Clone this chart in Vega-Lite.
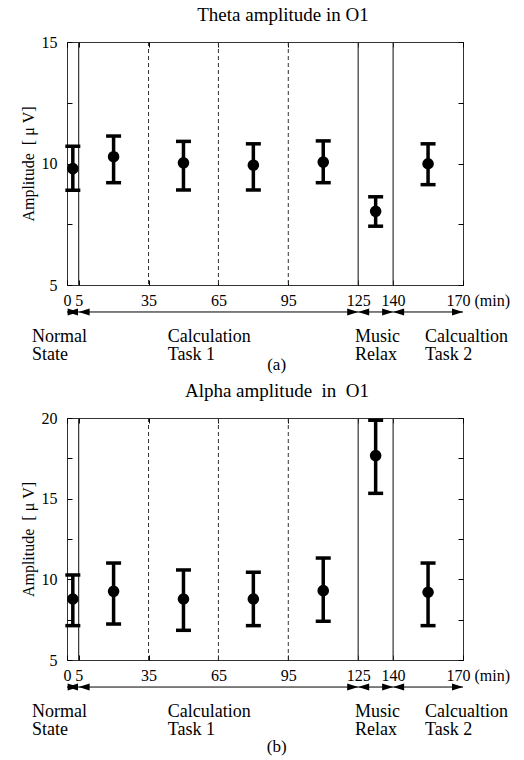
{
  "$schema": "https://vega.github.io/schema/vega-lite/v6.json",
  "padding": {"left": 19, "top": 5, "right": 0, "bottom": 0},
  "spacing": 7,
  "datasets": {
    "theta": [
      {"t": 2.5, "mean": 9.79, "lo": 8.90, "hi": 10.71},
      {"t": 20, "mean": 10.28, "lo": 9.21, "hi": 11.13},
      {"t": 50, "mean": 10.03, "lo": 8.91, "hi": 10.91},
      {"t": 80, "mean": 9.93, "lo": 8.91, "hi": 10.81},
      {"t": 110, "mean": 10.06, "lo": 9.21, "hi": 10.93},
      {"t": 132.5, "mean": 8.03, "lo": 7.42, "hi": 8.63},
      {"t": 155, "mean": 9.99, "lo": 9.13, "hi": 10.81}
    ],
    "alpha": [
      {"t": 2.5, "mean": 8.78, "lo": 7.13, "hi": 10.27},
      {"t": 20, "mean": 9.26, "lo": 7.23, "hi": 11.01},
      {"t": 50, "mean": 8.78, "lo": 6.84, "hi": 10.58},
      {"t": 80, "mean": 8.78, "lo": 7.13, "hi": 10.44},
      {"t": 110, "mean": 9.30, "lo": 7.40, "hi": 11.32},
      {"t": 132.5, "mean": 17.67, "lo": 15.33, "hi": 19.86},
      {"t": 155, "mean": 9.20, "lo": 7.13, "hi": 11.01}
    ],
    "phases": [
      {"phase": "Normal\nState", "start": 0, "end": 5, "label_at": -15},
      {"phase": "Calculation\nTask 1", "start": 5, "end": 125, "label_at": 43.3},
      {"phase": "Music\nRelax", "start": 125, "end": 140, "label_at": 123.6},
      {"phase": "Calcualtion\nTask 2", "start": 140, "end": 170, "label_at": 153.7}
    ],
    "subdiv": [{"t": 35}, {"t": 65}, {"t": 95}]
  },
  "vconcat": [
    {
      "width": 396,
      "height": 243,
      "title": {"text": "Theta amplitude in O1", "frame": "group", "dx": 18, "offset": 9},
      "resolve": {"axis": {"x": "independent", "y": "independent"}},
      "layer": [
        {
          "data": {"name": "subdiv"},
          "mark": {"type": "rule", "color": "#333", "strokeWidth": 1, "strokeDash": [4, 3]},
          "encoding": {"x": {"field": "t", "type": "quantitative", "axis": null}}
        },
        {
          "data": {"name": "phases"},
          "transform": [{"filter": "datum.start > 0"}],
          "mark": {"type": "rule", "color": "#333", "strokeWidth": 1.2},
          "encoding": {"x": {"field": "start", "type": "quantitative", "axis": null}}
        },
        {
          "data": {"name": "phases"},
          "mark": {"type": "rule", "color": "black", "strokeWidth": 1},
          "encoding": {
            "x": {"field": "start", "type": "quantitative", "axis": null},
            "x2": {"field": "end"},
            "y": {"datum": 3.89, "type": "quantitative", "axis": null}
          }
        },
        {
          "data": {"name": "phases"},
          "mark": {"type": "point", "shape": "M0,0L1,-0.32L1,0.32Z", "filled": true, "color": "black", "opacity": 1, "size": 484, "strokeWidth": 0},
          "encoding": {
            "x": {"field": "start", "type": "quantitative", "axis": null},
            "y": {"datum": 3.89, "type": "quantitative", "axis": null}
          }
        },
        {
          "data": {"name": "phases"},
          "mark": {"type": "point", "shape": "M0,0L-1,-0.32L-1,0.32Z", "filled": true, "color": "black", "opacity": 1, "size": 484, "strokeWidth": 0},
          "encoding": {
            "x": {"field": "end", "type": "quantitative", "axis": null},
            "y": {"datum": 3.89, "type": "quantitative", "axis": null}
          }
        },
        {
          "data": {"name": "phases"},
          "mark": {"type": "text", "align": "left", "baseline": "alphabetic", "lineBreak": "\n", "lineHeight": 18, "fontSize": 18, "font": "Liberation Serif", "color": "black"},
          "encoding": {
            "x": {"field": "label_at", "type": "quantitative", "axis": null},
            "y": {"datum": 2.654, "type": "quantitative", "axis": null},
            "text": {"field": "phase", "type": "nominal"}
          }
        },
        {
          "data": {"values": [{"caption": "(a)"}]},
          "mark": {"type": "text", "align": "center", "baseline": "alphabetic", "fontSize": 17, "font": "Liberation Serif", "color": "black"},
          "encoding": {
            "x": {"datum": 90, "type": "quantitative", "axis": null},
            "y": {"datum": 1.502, "type": "quantitative", "axis": null},
            "text": {"field": "caption", "type": "nominal"}
          }
        },
        {
          "data": {"name": "theta"},
          "mark": {"type": "rule", "color": "black", "strokeWidth": 3.5},
          "encoding": {
            "x": {
              "field": "t", "type": "quantitative",
              "scale": {"domain": [0, 170], "nice": false, "zero": false},
              "axis": {
                "orient": "bottom", "title": null,
                "values": [0, 5, 35, 65, 95, 125, 140, 170],
                "labelPadding": 12,
                "labelExpr": "datum.value == 170 ? '170 (min)' : datum.label",
                "labelAlign": {"condition": {"test": "datum.value == 170", "value": "left"}, "value": "center"},
                "labelOffset": {"condition": {"test": "datum.value == 170", "value": -17}, "value": 0}
              }
            },
            "y": {
              "field": "lo", "type": "quantitative",
              "scale": {"domain": [5, 15], "nice": false, "zero": false},
              "axis": {
                "orient": "left",
                "title": "Amplitude \u00a0[ μ V]",
                "values": [5, 7.5, 10, 12.5, 15],
                "labelExpr": "datum.value % 5 == 0 ? datum.label : ''",
                "labelPadding": 15,
                "titlePadding": 5
              }
            },
            "y2": {"field": "hi"}
          }
        },
        {
          "data": {"name": "theta"},
          "mark": {"type": "tick", "orient": "horizontal", "color": "black", "size": 15, "thickness": 3.5, "opacity": 1},
          "encoding": {
            "x": {
              "field": "t", "type": "quantitative",
              "axis": {"orient": "top", "title": null, "labels": false, "values": [0, 5, 35, 65, 95, 125, 140, 170]}
            },
            "y": {
              "field": "hi", "type": "quantitative",
              "axis": {"orient": "right", "title": null, "labels": false, "values": [5, 7.5, 10, 12.5, 15]}
            }
          }
        },
        {
          "data": {"name": "theta"},
          "mark": {"type": "tick", "orient": "horizontal", "color": "black", "size": 15, "thickness": 3.5, "opacity": 1},
          "encoding": {
            "x": {"field": "t", "type": "quantitative", "axis": null},
            "y": {"field": "lo", "type": "quantitative", "axis": null}
          }
        },
        {
          "data": {"name": "theta"},
          "mark": {"type": "circle", "color": "black", "size": 135, "opacity": 1},
          "encoding": {
            "x": {"field": "t", "type": "quantitative", "axis": null},
            "y": {"field": "mean", "type": "quantitative", "axis": null}
          }
        }
      ]
    },
    {
      "width": 396,
      "height": 242,
      "title": {"text": "Alpha amplitude \u00a0in \u00a0O1", "frame": "group", "dx": 12, "offset": 9},
      "resolve": {"axis": {"x": "independent", "y": "independent"}},
      "layer": [
        {
          "data": {"name": "subdiv"},
          "mark": {"type": "rule", "color": "#333", "strokeWidth": 1, "strokeDash": [4, 3]},
          "encoding": {"x": {"field": "t", "type": "quantitative", "axis": null}}
        },
        {
          "data": {"name": "phases"},
          "transform": [{"filter": "datum.start > 0"}],
          "mark": {"type": "rule", "color": "#333", "strokeWidth": 1.2},
          "encoding": {"x": {"field": "start", "type": "quantitative", "axis": null}}
        },
        {
          "data": {"name": "phases"},
          "mark": {"type": "rule", "color": "black", "strokeWidth": 1},
          "encoding": {
            "x": {"field": "start", "type": "quantitative", "axis": null},
            "x2": {"field": "end"},
            "y": {"datum": 3.324, "type": "quantitative", "axis": null}
          }
        },
        {
          "data": {"name": "phases"},
          "mark": {"type": "point", "shape": "M0,0L1,-0.32L1,0.32Z", "filled": true, "color": "black", "opacity": 1, "size": 484, "strokeWidth": 0},
          "encoding": {
            "x": {"field": "start", "type": "quantitative", "axis": null},
            "y": {"datum": 3.324, "type": "quantitative", "axis": null}
          }
        },
        {
          "data": {"name": "phases"},
          "mark": {"type": "point", "shape": "M0,0L-1,-0.32L-1,0.32Z", "filled": true, "color": "black", "opacity": 1, "size": 484, "strokeWidth": 0},
          "encoding": {
            "x": {"field": "end", "type": "quantitative", "axis": null},
            "y": {"datum": 3.324, "type": "quantitative", "axis": null}
          }
        },
        {
          "data": {"name": "phases"},
          "mark": {"type": "text", "align": "left", "baseline": "alphabetic", "lineBreak": "\n", "lineHeight": 18, "fontSize": 18, "font": "Liberation Serif", "color": "black"},
          "encoding": {
            "x": {"field": "label_at", "type": "quantitative", "axis": null},
            "y": {"datum": 1.46, "type": "quantitative", "axis": null},
            "text": {"field": "phase", "type": "nominal"}
          }
        },
        {
          "data": {"values": [{"caption": "(b)"}]},
          "mark": {"type": "text", "align": "center", "baseline": "alphabetic", "fontSize": 17, "font": "Liberation Serif", "color": "black"},
          "encoding": {
            "x": {"datum": 90, "type": "quantitative", "axis": null},
            "y": {"datum": -0.711, "type": "quantitative", "axis": null},
            "text": {"field": "caption", "type": "nominal"}
          }
        },
        {
          "data": {"name": "alpha"},
          "mark": {"type": "rule", "color": "black", "strokeWidth": 3.5},
          "encoding": {
            "x": {
              "field": "t", "type": "quantitative",
              "scale": {"domain": [0, 170], "nice": false, "zero": false},
              "axis": {
                "orient": "bottom", "title": null,
                "values": [0, 5, 35, 65, 95, 125, 140, 170],
                "labelPadding": 12,
                "labelExpr": "datum.value == 170 ? '170 (min)' : datum.label",
                "labelAlign": {"condition": {"test": "datum.value == 170", "value": "left"}, "value": "center"},
                "labelOffset": {"condition": {"test": "datum.value == 170", "value": -17}, "value": 0}
              }
            },
            "y": {
              "field": "lo", "type": "quantitative",
              "scale": {"domain": [5, 20], "nice": false, "zero": false},
              "axis": {
                "orient": "left",
                "title": "Amplitude \u00a0[ μ V]",
                "values": [5, 7.5, 10, 12.5, 15, 17.5, 20],
                "labelExpr": "datum.value % 5 == 0 ? datum.label : ''",
                "labelPadding": 15,
                "titlePadding": 5
              }
            },
            "y2": {"field": "hi"}
          }
        },
        {
          "data": {"name": "alpha"},
          "mark": {"type": "tick", "orient": "horizontal", "color": "black", "size": 15, "thickness": 3.5, "opacity": 1},
          "encoding": {
            "x": {
              "field": "t", "type": "quantitative",
              "axis": {"orient": "top", "title": null, "labels": false, "values": [0, 5, 35, 65, 95, 125, 140, 170]}
            },
            "y": {
              "field": "hi", "type": "quantitative",
              "axis": {"orient": "right", "title": null, "labels": false, "values": [5, 7.5, 10, 12.5, 15, 17.5, 20]}
            }
          }
        },
        {
          "data": {"name": "alpha"},
          "mark": {"type": "tick", "orient": "horizontal", "color": "black", "size": 15, "thickness": 3.5, "opacity": 1},
          "encoding": {
            "x": {"field": "t", "type": "quantitative", "axis": null},
            "y": {"field": "lo", "type": "quantitative", "axis": null}
          }
        },
        {
          "data": {"name": "alpha"},
          "mark": {"type": "circle", "color": "black", "size": 135, "opacity": 1},
          "encoding": {
            "x": {"field": "t", "type": "quantitative", "axis": null},
            "y": {"field": "mean", "type": "quantitative", "axis": null}
          }
        }
      ]
    }
  ],
  "config": {
    "font": "Liberation Serif",
    "background": "white",
    "view": {"stroke": "#333", "strokeWidth": 1},
    "axis": {
      "domain": false, "grid": false, "tickColor": "black", "tickSize": -5,
      "labelFont": "Liberation Serif", "labelFontSize": 16, "labelColor": "black",
      "titleFont": "Liberation Serif", "titleFontSize": 16, "titleFontWeight": "normal", "titleColor": "black",
      "labelFlush": false, "labelOverlap": false
    },
    "title": {"font": "Liberation Serif", "fontSize": 19, "fontWeight": "normal", "color": "black"}
  }
}
